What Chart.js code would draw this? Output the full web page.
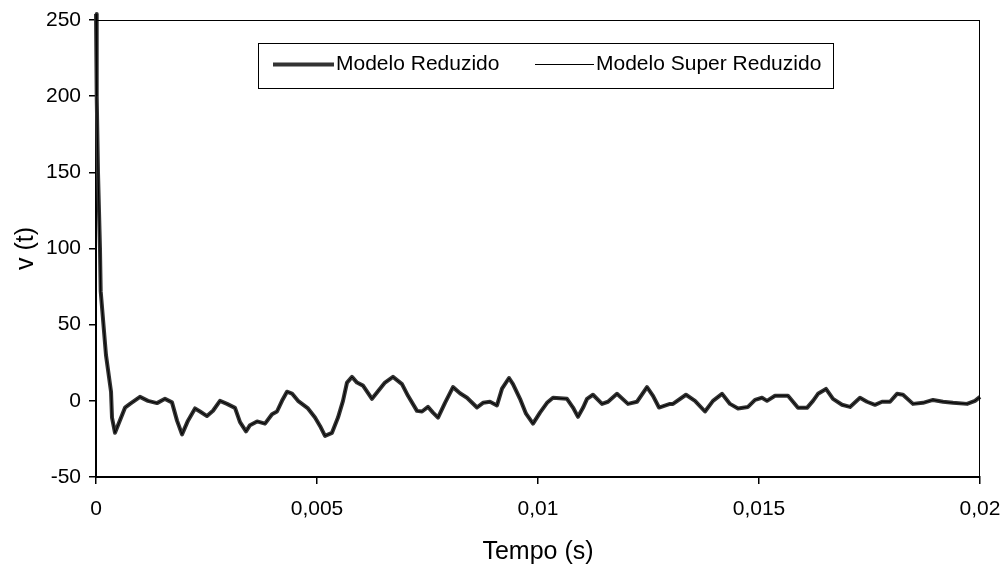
<!DOCTYPE html>
<html>
<head>
<meta charset="utf-8">
<script src="https://cdn.jsdelivr.net/npm/chart.js@4"></script>
<style>
html,body{margin:0;padding:0;background:#fff;}
#wrap{width:1005px;height:567px;}
</style>
</head>
<body>
<div id="wrap"><canvas id="c" width="1005" height="567"></canvas></div>
<script>
// Time (s)
const tempo = [0,0.000016,0.000045,0.00009,0.000106,0.000226,0.00034,0.000362,0.00043,0.000656,0.000769,0.000995,0.001176,0.00138,0.001561,0.001719,0.001833,0.001946,0.002081,0.00224,0.002353,0.002511,0.002647,0.002805,0.002964,0.003145,0.003258,0.003394,0.003484,0.003643,0.003824,0.003982,0.004095,0.004208,0.004321,0.004434,0.00457,0.004796,0.004955,0.005068,0.005181,0.005339,0.005475,0.005588,0.005679,0.005792,0.005905,0.006041,0.006244,0.006425,0.006538,0.006719,0.006923,0.007059,0.007262,0.007376,0.007511,0.007624,0.007738,0.007896,0.008077,0.008235,0.008394,0.00862,0.008756,0.008914,0.009072,0.009186,0.009344,0.009434,0.009593,0.009729,0.009887,0.010045,0.010204,0.010339,0.010656,0.010792,0.010905,0.011018,0.011109,0.011244,0.011448,0.011584,0.011787,0.012036,0.01224,0.012466,0.012602,0.012738,0.012986,0.013054,0.013348,0.013552,0.013778,0.013959,0.014163,0.014344,0.014525,0.014751,0.01491,0.015068,0.015181,0.015362,0.015656,0.015882,0.016086,0.016222,0.016335,0.016516,0.016674,0.016878,0.017059,0.017285,0.017443,0.017624,0.017783,0.017964,0.018122,0.018258,0.018484,0.01871,0.018937,0.019163,0.019389,0.019706,0.019887,0.02];
// v(t) - Modelo Reduzido
const modeloReduzido = [254,200,150,100,72,30,6,-11,-21,-4.5,-2,2.6,0,-1.5,1.3,-1,-13,-22,-13,-5,-7,-10,-6.5,0,-2,-4.6,-14,-20,-16,-13.5,-15,-8.8,-7,0,6,4.8,0,-5,-11,-16.5,-23,-21,-11,0,12,15.7,12,10,1.3,8,12,15.7,11,3.3,-6.6,-7,-4,-7.7,-11,-1.3,9,5,2,-4.4,-1.3,-0.6,-3,8,15,11,1.3,-8.4,-15,-7.7,-1.3,2,1.3,-4.4,-10.5,-4.6,1.3,4,-2,-0.6,4.6,-2,-0.6,9,3.3,-4.4,-2,-2,4,0,-7,0,4.6,-2,-5,-4,0.6,2,0,3.3,3.3,-4.6,-4.6,0,4.6,7.8,1.3,-2.6,-4,2,-0.6,-2.6,-0.6,-0.6,4.6,4,-2,-1.3,0.6,-0.6,-1.3,-2,0,2.6];
// v(t) - Modelo Super Reduzido (overlaps the reduced model)
const modeloSuperReduzido = [254,200,150,100,72,30,6,-11,-21,-4.5,-2,2.6,0,-1.5,1.3,-1,-13,-22,-13,-5,-7,-10,-6.5,0,-2,-4.6,-14,-20,-16,-13.5,-15,-8.8,-7,0,6,4.8,0,-5,-11,-16.5,-23,-21,-11,0,12,15.7,12,10,1.3,8,12,15.7,11,3.3,-6.6,-7,-4,-7.7,-11,-1.3,9,5,2,-4.4,-1.3,-0.6,-3,8,15,11,1.3,-8.4,-15,-7.7,-1.3,2,1.3,-4.4,-10.5,-4.6,1.3,4,-2,-0.6,4.6,-2,-0.6,9,3.3,-4.4,-2,-2,4,0,-7,0,4.6,-2,-5,-4,0.6,2,0,3.3,3.3,-4.6,-4.6,0,4.6,7.8,1.3,-2.6,-4,2,-0.6,-2.6,-0.6,-0.6,4.6,4,-2,-1.3,0.6,-0.6,-1.3,-2,0,2.6];
const seriesNames = ["Modelo Reduzido","Modelo Super Reduzido"];
const xTicks = [0,0.005,0.01,0.015,0.02];
const yTicks = [-50,0,50,100,150,200,250];

const FONT = "'Liberation Sans', Arial, sans-serif";

const frame = {
  id:'frame',
  afterDraw(chart){
    const {ctx, chartArea:a} = chart;
    ctx.save();
    ctx.strokeStyle='#000';
    ctx.lineWidth=1;
    ctx.beginPath();
    ctx.moveTo(a.left, a.top+0.5); ctx.lineTo(a.right, a.top+0.5);
    ctx.moveTo(a.right-0.5, a.top); ctx.lineTo(a.right-0.5, a.bottom);
    ctx.stroke();
    // legend
    const lx=258, ly=43, lw=575, lh=45;
    ctx.fillStyle='#fff';
    ctx.fillRect(lx,ly,lw,lh);
    ctx.strokeRect(lx+0.5,ly+0.5,lw,lh);
    const cy = ly+21;
    ctx.font = "21px " + FONT;
    ctx.textBaseline='middle';
    ctx.textAlign='left';
    ctx.fillStyle='#000';
    const ds = chart.data.datasets;
    ctx.strokeStyle=ds[0].borderColor; ctx.lineWidth=ds[0].borderWidth;
    ctx.beginPath(); ctx.moveTo(273,cy+0.5); ctx.lineTo(334,cy+0.5); ctx.stroke();
    ctx.fillText(ds[0].label, 336, cy);
    ctx.strokeStyle=ds[1].borderColor; ctx.lineWidth=ds[1].borderWidth;
    ctx.beginPath(); ctx.moveTo(535,cy+0.5); ctx.lineTo(594,cy+0.5); ctx.stroke();
    ctx.fillText(ds[1].label, 596, cy);
    ctx.restore();
  }
};

new Chart(document.getElementById('c'), {
  type:'line',
  data:{
    datasets:[
      {label:seriesNames[0], data:tempo.map((t,i)=>({x:t,y:modeloReduzido[i]})), borderColor:'#333333', borderWidth:4, pointRadius:0, tension:0, clip:false, order:2, borderJoinStyle:'round'},
      {label:seriesNames[1], data:tempo.map((t,i)=>({x:t,y:modeloSuperReduzido[i]})), borderColor:'#000000', borderWidth:1, pointRadius:0, tension:0, clip:false, order:1}
    ]
  },
  options:{
    responsive:false, animation:false,
    layout:{padding:{left:0,right:25,top:20,bottom:0}},
    plugins:{legend:{display:false}, tooltip:{enabled:false}},
    scales:{
      x:{type:'linear', min:0, max:0.02,
        afterBuildTicks(s){ s.ticks = xTicks.map(v=>({value:v})); },
        afterFit(s){ s.height = 90; s.paddingLeft = 0; s.paddingRight = 0; },
        border:{color:'#000', width:2},
        grid:{drawOnChartArea:false, color:'#000', tickLength:7, lineWidth:1.5},
        ticks:{color:'#000', font:{family:FONT, size:21}, padding:13, maxRotation:0,
          callback:v=>String(+v.toFixed(3)).replace('.',',')},
        title:{display:true, text:'Tempo (s)', color:'#000', font:{family:FONT, size:25}, padding:{top:4,bottom:0}}
      },
      y:{type:'linear', min:-50, max:250,
        afterBuildTicks(s){ s.ticks = yTicks.map(v=>({value:v})); },
        afterFit(s){ s.width = 96; s.paddingTop = 0; s.paddingBottom = 0; },
        border:{color:'#000', width:2},
        grid:{drawOnChartArea:false, color:'#000', tickLength:7, lineWidth:1.5},
        ticks:{color:'#000', font:{family:FONT, size:21}, padding:8},
        title:{display:true, text:'v (t)', color:'#000', font:{family:FONT, size:25}, padding:{top:11,bottom:0}}
      }
    }
  },
  plugins:[frame]
});
</script>
</body>
</html>
